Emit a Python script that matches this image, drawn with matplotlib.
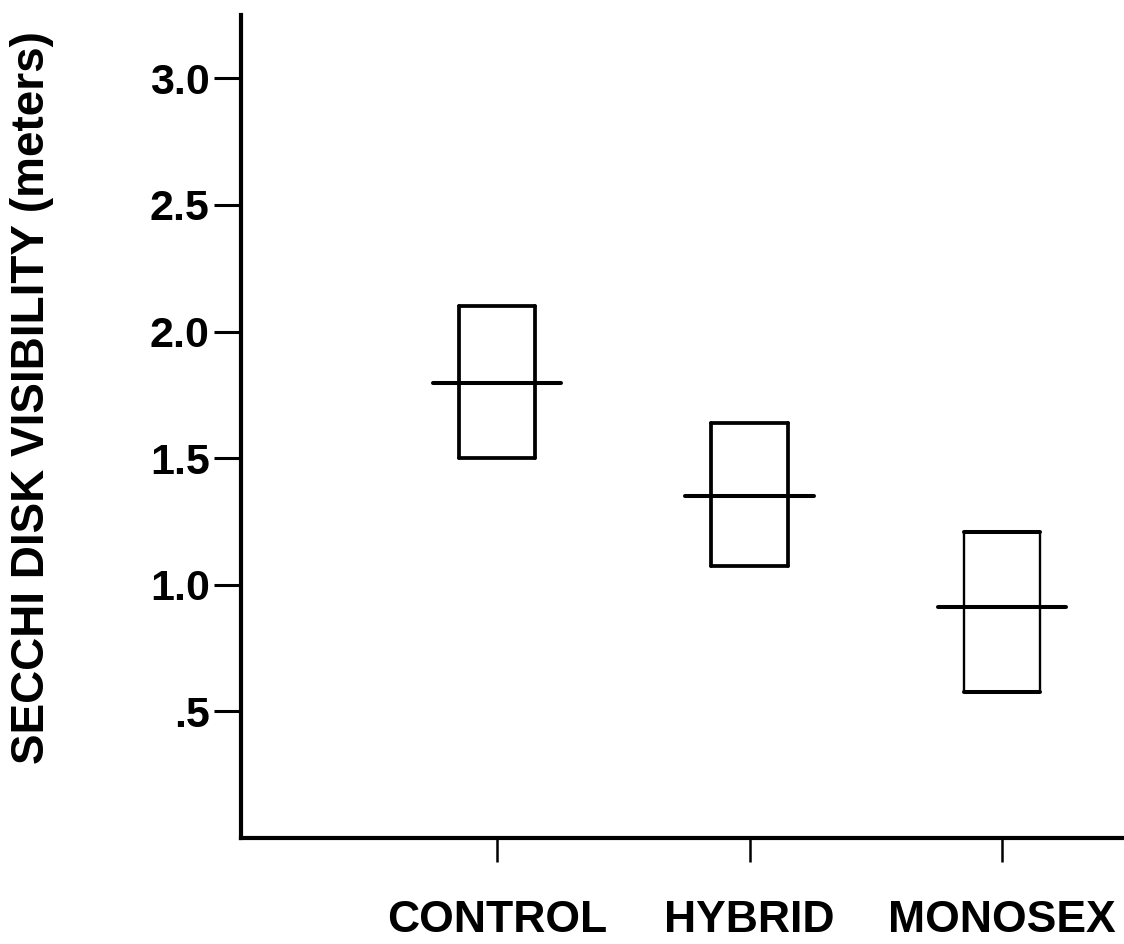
import matplotlib
matplotlib.use("Agg")
import matplotlib.pyplot as plt

# ---- data ----
categories = ["CONTROL", "HYBRID", "MONOSEX"]
box_low = [1.50, 1.075, 0.577]
box_high = [2.10, 1.640, 1.209]
medians = [1.798, 1.352, 0.913]
ytick_values = [0.5, 1.0, 1.5, 2.0, 2.5, 3.0]
ytick_labels = [".5", "1.0", "1.5", "2.0", "2.5", "3.0"]
ylabel = "SECCHI DISK VISIBILITY (meters)"

# ---- layout ----
W, H = 1124, 944
plt.rcParams['font.family'] = ['Liberation Sans', 'DejaVu Sans']
fig = plt.figure(figsize=(W / 100, H / 100), dpi=100)

ax = fig.add_axes([241 / W, 1 - 838 / H, (W - 241) / W, (838 - 15) / H])
ax.set_xlim(-0.014, 3.483)
ax.set_ylim(0, 3.25)

for s in ("top", "right"):
    ax.spines[s].set_visible(False)
for s in ("left", "bottom"):
    ax.spines[s].set_linewidth(3.0)
    ax.spines[s].set_capstyle("projecting")

positions = list(range(1, len(categories) + 1))
box_w = 0.303
med_w = 0.51
side_lw = [2.7, 2.7, 1.7]
cap_lw = [2.7, 2.7, 2.9]
for x, lo, hi, med, slw, clw in zip(positions, box_low, box_high, medians, side_lw, cap_lw):
    x0, x1 = x - box_w / 2, x + box_w / 2
    ax.plot([x0, x0], [lo, hi], color="black", linewidth=slw, solid_capstyle="round")
    ax.plot([x1, x1], [lo, hi], color="black", linewidth=slw, solid_capstyle="round")
    ax.plot([x0, x1], [lo, lo], color="black", linewidth=clw, solid_capstyle="round")
    ax.plot([x0, x1], [hi, hi], color="black", linewidth=clw, solid_capstyle="round")
    ax.plot([x - med_w / 2, x + med_w / 2], [med, med], color="black",
            linewidth=2.9, solid_capstyle="round")

ax.set_yticks(ytick_values)
ax.set_yticklabels(ytick_labels, fontsize=31, fontweight="bold")
ax.tick_params(axis="y", direction="out", length=19.5, width=2.2, pad=3)
ax.set_xticks(positions)
ax.set_xticklabels([])
ax.tick_params(axis="x", direction="out", length=17, width=1.8)

fig.text(32 / W, 1 - 398 / H, ylabel, rotation=90, ha="center", va="center",
         fontsize=33, fontweight="bold")

for x, name in zip(positions, categories):
    ax.annotate(name, xy=(x, 0), xycoords=("data", "axes fraction"),
                xytext=(0, -82 * 0.72), textcoords="offset points",
                ha="center", va="center", fontsize=32, fontweight="bold")

fig.savefig("out.png", dpi=100)
